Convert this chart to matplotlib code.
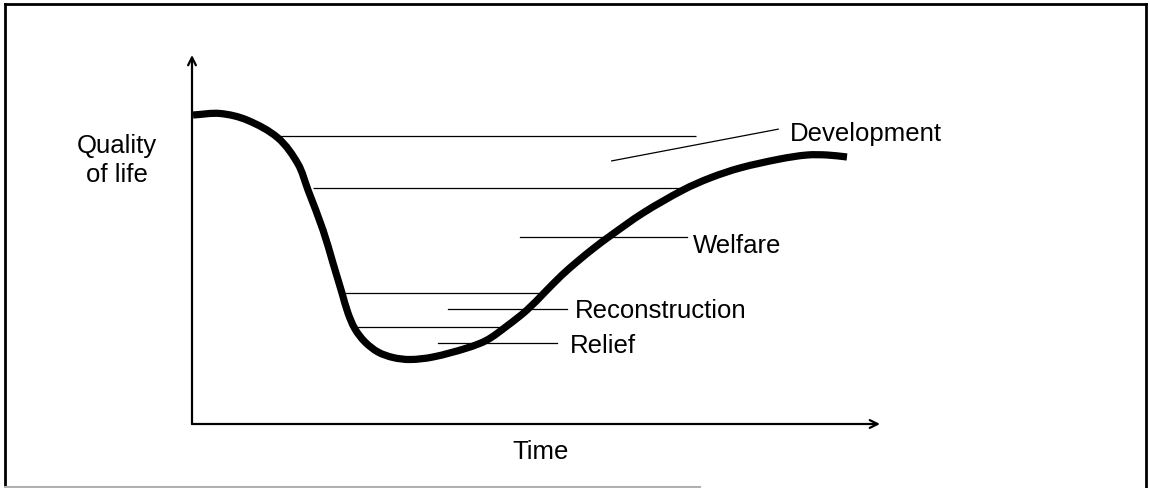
import matplotlib
matplotlib.use("Agg")
import matplotlib.pyplot as plt
from matplotlib.lines import Line2D
from matplotlib.path import Path
from matplotlib.patches import PathPatch
import numpy as np

# quality-of-life curve over time (schematic units, 0-100 on both axes)
curve_time = [0.15, 4.07, 7.99, 12.50, 15.41, 16.86, 19.04, 20.49, 21.80, 22.67,
              23.69, 25.15, 27.03, 29.22, 31.69, 35.03, 39.97, 42.88, 45.78, 48.69,
              51.31, 53.78, 56.10, 58.43, 60.76, 65.55, 71.37, 75.29, 79.65, 85.47,
              89.39, 92.3, 95.2]
curve_quality = [83.74, 84.15, 82.38, 77.51, 70.46, 63.41, 52.57, 43.63, 35.50, 30.08,
                 25.75, 22.22, 19.51, 18.02, 17.48, 18.16, 20.60, 22.76, 26.56, 30.89,
                 35.77, 40.38, 44.17, 47.70, 50.95, 57.18, 63.41, 66.67, 69.38, 71.82,
                 72.90, 72.9, 72.36]

# phase boundaries: (level, start time, end time)
levels = [78.0, 64.0, 35.5, 26.3]
level_start = [12.5, 17.6, 21.9, 23.7]
level_end = [73.3, 72.1, 51.0, 45.1]

# phase labels and their leader lines
phases = ["Development", "Welfare", "Reconstruction", "Relief"]
leader_x0 = [61.0, 47.7, 37.2, 35.8]
leader_y0 = [71.3, 50.7, 31.2, 22.0]
leader_x1 = [85.2, 71.9, 54.5, 53.1]
leader_y1 = [79.9, 50.7, 31.2, 22.0]
label_x = [86.9, 72.8, 55.7, 54.9]
label_y = [76.8, 46.3, 28.7, 19.2]

W, H = 1150, 488
# axes origin and arrow tips in the reference (pixels)
x0, y0, x1, y1 = 192, 424, 880, 55
sx = (x1 - x0) / 100   # px per time unit
sy = (y0 - y1) / 100   # px per quality unit


def smooth_path(xs, ys):
    """Smooth bezier through the points, tangents taken in pixel space."""
    p = np.column_stack([np.asarray(xs) * sx, np.asarray(ys) * sy])
    n = len(p)
    tang = []
    for i in range(n):
        d = p[min(i + 1, n - 1)] - p[max(i - 1, 0)]
        tang.append(d / np.hypot(*d))
    verts = [p[0]]
    codes = [Path.MOVETO]
    for i in range(n - 1):
        seg = np.hypot(*(p[i + 1] - p[i])) / 3
        verts += [p[i] + tang[i] * seg, p[i + 1] - tang[i + 1] * seg, p[i + 1]]
        codes += [Path.CURVE4] * 3
    verts = np.array(verts) / [sx, sy]
    return Path(verts, codes)


plt.rcParams['font.family'] = ['Liberation Sans', 'DejaVu Sans']
fig = plt.figure(figsize=(W / 100, H / 100), dpi=100)

ax = fig.add_axes([x0 / W, 1 - y0 / H, (x1 - x0) / W, (y0 - y1) / H])
ax.set_xlim(0, 100)
ax.set_ylim(0, 100)
ax.axis('off')

# axis arrows
ax.annotate('', xy=(100, 0), xytext=(0, 0), annotation_clip=False,
            arrowprops=dict(arrowstyle='->', lw=1.6, color='black',
                            mutation_scale=14, shrinkA=0, shrinkB=0))
ax.annotate('', xy=(0, 100), xytext=(0, 0), annotation_clip=False,
            arrowprops=dict(arrowstyle='->', lw=1.6, color='black',
                            mutation_scale=14, shrinkA=0, shrinkB=0))

# horizontal phase boundaries
ax.hlines(levels, level_start, level_end, color='black', lw=0.9)

# leader lines + labels
for i, name in enumerate(phases):
    ax.plot([leader_x0[i], leader_x1[i]], [leader_y0[i], leader_y1[i]],
            color='black', lw=0.9)
    ax.text(label_x[i], label_y[i], name, fontsize=18.5, ha='left', va='baseline')

# main curve
ax.add_patch(PathPatch(smooth_path(curve_time, curve_quality), facecolor='none',
                       edgecolor='black', lw=5.2, joinstyle='round',
                       capstyle='butt', clip_on=False))

ax.text(-10.9, 71.5, "Quality\nof life", fontsize=18.5, ha='center', va='center',
        linespacing=1.28)
ax.text(50.7, -9.5, "Time", fontsize=18.5, ha='center', va='baseline')

# outer frame
tr = fig.transFigure
fig.add_artist(Line2D([5 / W, 1146 / W], [1 - 4 / H, 1 - 4 / H], transform=tr, color='black', lw=2))
fig.add_artist(Line2D([5 / W, 5 / W], [1 - 4 / H, 1 - 487 / H], transform=tr, color='black', lw=2))
fig.add_artist(Line2D([1146 / W, 1146 / W], [1 - 4 / H, 0], transform=tr, color='black', lw=2))
fig.add_artist(Line2D([5 / W, 700 / W], [1 - 487 / H, 1 - 487 / H], transform=tr, color='#b0b0b0', lw=1.5))

fig.savefig('out.png', dpi=100)
